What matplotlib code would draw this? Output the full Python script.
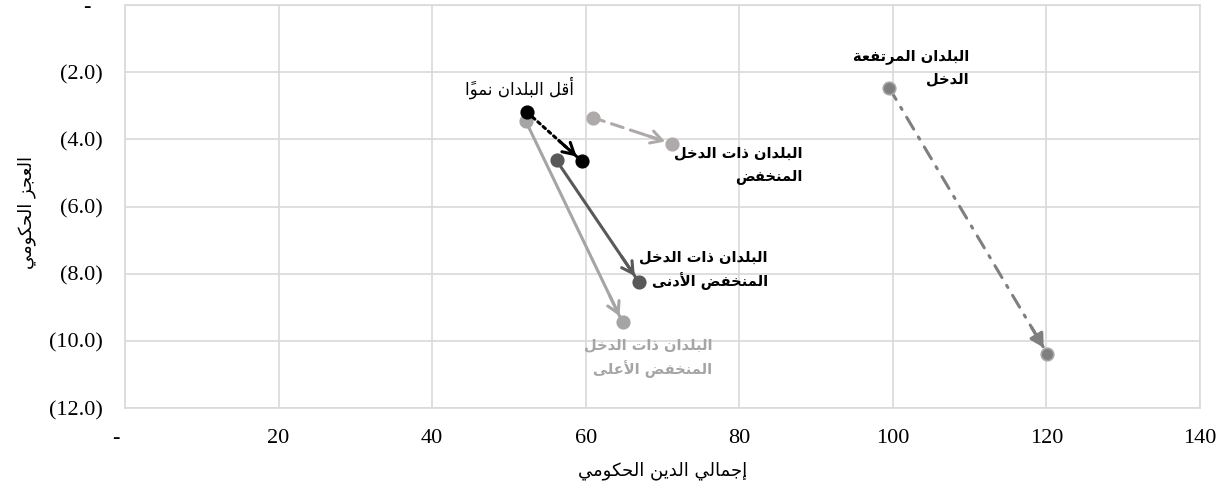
import numpy as np
import matplotlib
matplotlib.use("Agg")
import matplotlib.pyplot as plt
from matplotlib.ticker import FuncFormatter

# --- dados ---
grupos = [
    "أقل البلدان نمواً",
    "البلدان ذات الدخل\nالمنخفض",
    "البلدان ذات الدخل\nالمنخفض الأدنى",
    "البلدان ذات الدخل\nالمنخفض الأعلى",
    "البلدان المرتفعة\nالدخل",
]
divida_inicio = [52.4, 60.9, 56.2, 52.2, 99.5]
divida_fim = [59.5, 71.2, 66.9, 64.8, 120.1]
deficit_inicio = [-3.2, -3.35, -4.63, -3.46, -2.46]
deficit_fim = [-4.65, -4.13, -8.24, -9.45, -10.38]

x_ticks = [0, 20, 40, 60, 80, 100, 120, 140]
y_ticks = [0, -2, -4, -6, -8, -10, -12]
titulo_x = "إجمالي الدين الحكومي"
titulo_y = "العجز الحكومي"

# --- estilos ---
cores = ["#000000", "#aeaaaa", "#595959", "#a5a5a5", "#7f7f7f"]
linhas = [(0, (1, 1.3)), (0, (4, 2.5)), "-", "-", (0, (4.5, 3, 0.8, 3))]
larguras = [2.2, 2.2, 2.2, 2.2, 2.2]
setas = ["->", "->", "->", "->", "-|>"]
ordem_z = [10, 6, 7, 5, 6]
# posição dos rótulos (dados) e alinhamento
rot_pos = [(51.4, -2.47), (88.2, -4.75), (83.7, -7.88), (76.5, -10.5), (109.9, -1.86)]
rot_ha = ["center", "right", "right", "right", "right"]
rot_cor = ["#000000", "#000000", "#000000", "#a5a5a5", "#000000"]
rot_peso = ["normal", "bold", "bold", "bold", "bold"]
rot_tam = [12, 10.5, 10.5, 10.5, 10.5]

# --- forma das letras árabes (sem arabic_reshaper) ---
FORMAS = {
    'ا': (0xFE8D, False), 'أ': (0xFE83, False), 'إ': (0xFE87, False),
    'ب': (0xFE8F, True), 'ة': (0xFE93, False), 'ت': (0xFE95, True),
    'ج': (0xFE9D, True), 'ح': (0xFEA1, True), 'خ': (0xFEA5, True),
    'د': (0xFEA9, False), 'ذ': (0xFEAB, False), 'ر': (0xFEAD, False),
    'ز': (0xFEAF, False), 'ض': (0xFEBD, True), 'ع': (0xFEC9, True),
    'ف': (0xFED1, True), 'ق': (0xFED5, True), 'ك': (0xFED9, True),
    'ل': (0xFEDD, True), 'م': (0xFEE1, True), 'ن': (0xFEE5, True),
    'و': (0xFEED, False), 'ى': (0xFEEF, False), 'ي': (0xFEF1, True),
}
LAM_ALEF = {'ا': 0xFEFB, 'أ': 0xFEF7, 'إ': 0xFEF9}
MARCAS = {'\u064B'}


def moldar_linha(texto):
    cs = list(texto)
    n = len(cs)

    def anterior(i):
        j = i - 1
        while j >= 0 and cs[j] in MARCAS:
            j -= 1
        return cs[j] if j >= 0 else None

    def proximo(i):
        j = i + 1
        while j < n and cs[j] in MARCAS:
            j += 1
        return j if j < n else None

    saida = []
    i = 0
    while i < n:
        c = cs[i]
        if c not in FORMAS:
            saida.append(c)
            i += 1
            continue
        p = anterior(i)
        liga_ant = p in FORMAS and FORMAS[p][1]
        j = proximo(i)
        nx = cs[j] if j is not None else None
        if c == 'ل' and nx in LAM_ALEF:
            grupo = chr(LAM_ALEF[nx] + (1 if liga_ant else 0))
            i = j + 1
        else:
            base, dupla = FORMAS[c]
            liga_prox = dupla and nx in FORMAS
            if liga_ant and liga_prox:
                grupo = chr(base + 3)
            elif liga_prox:
                grupo = chr(base + 2)
            elif liga_ant:
                grupo = chr(base + 1)
            else:
                grupo = chr(base)
            i += 1
        while i < n and cs[i] in MARCAS:
            grupo += cs[i]
            i += 1
        saida.append(grupo)
    return ''.join(reversed(saida))


def ar(texto):
    return "\n".join(moldar_linha(l) for l in texto.split("\n"))


plt.rcParams['font.family'] = ['DejaVu Sans']
W, H, DPI = 1232, 488, 100
fig = plt.figure(figsize=(W / DPI, H / DPI), dpi=DPI)
ax = fig.add_axes([125 / W, 1 - 408 / H, 1075 / W, 403 / H])

ax.set_xlim(0, 140)
ax.set_ylim(-12, 0)
ax.set_xticks(x_ticks)
ax.set_yticks(y_ticks)
ax.grid(True, color="#d9d9d9", lw=1.2)
ax.set_axisbelow(True)
for s in ax.spines.values():
    s.set_color("#d9d9d9")
    s.set_linewidth(1.2)
ax.tick_params(length=0)
ax.tick_params(axis='y', pad=16)
ax.tick_params(axis='x', pad=15)

fmt_x = FuncFormatter(lambda v, p: "-   " if v == 0 else f"{v:.0f}")
fmt_y = FuncFormatter(lambda v, p: "-  " if v == 0 else f"({abs(v):.1f})")
ax.xaxis.set_major_formatter(fmt_x)
ax.yaxis.set_major_formatter(fmt_y)
for t in ax.get_xticklabels() + ax.get_yticklabels():
    t.set_fontfamily("Liberation Serif")
    t.set_fontsize(16)

for k in range(len(grupos)):
    x0, x1 = divida_inicio[k], divida_fim[k]
    y0, y1 = deficit_inicio[k], deficit_fim[k]
    ax.plot([x0, x1], [y0, y1], color=cores[k], ls=linhas[k], lw=larguras[k],
            marker="o", ms=9, mec=("#a6a6a6" if k == 4 else cores[k]), mew=1.2,
            zorder=ordem_z[k], dash_capstyle="round")
    # cabeça da seta: direção calculada em pixels
    p0 = ax.transData.transform((x0, y0))
    p1 = ax.transData.transform((x1, y1))
    d = (p1 - p0) / np.hypot(*(p1 - p0))
    off = -d * 22
    ax.annotate("", xy=(x1, y1), xytext=(off[0], off[1]), textcoords="offset points",
                arrowprops=dict(arrowstyle=setas[k] + ",head_length=0.8,head_width=0.45",
                                color=cores[k], lw=larguras[k], shrinkA=0, shrinkB=5),
                zorder=ordem_z[k])
    ax.text(rot_pos[k][0], rot_pos[k][1], ar(grupos[k]), ha=rot_ha[k], va="center",
            multialignment=rot_ha[k], color=rot_cor[k], fontweight=rot_peso[k],
            fontsize=rot_tam[k], linespacing=1.6, zorder=20)

ax.set_xlabel(ar(titulo_x), fontsize=13)
ax.set_ylabel(ar(titulo_y), fontsize=13)
ax.xaxis.set_label_coords(0.5, -0.132)
ax.yaxis.set_label_coords(-0.083, 0.484)

fig.savefig("out.png", dpi=DPI)
